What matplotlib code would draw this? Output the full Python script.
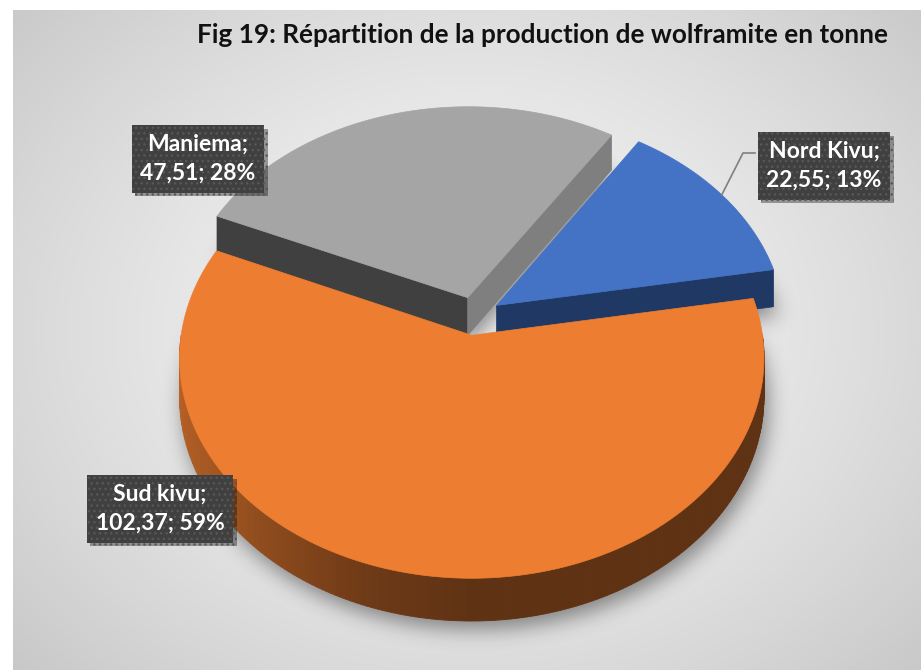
import numpy as np
import matplotlib.pyplot as plt
from matplotlib.patches import Polygon
from matplotlib.path import Path
from matplotlib import patheffects as pe

# data
regions = ['Nord Kivu', 'Sud kivu', 'Maniema']
tonnes = [22.55, 102.37, 47.51]
colors = ['#4472c4', '#ed7d31', '#a5a5a5']
title = 'Fig 19: Répartition de la production de wolframite en tonne'

# label box centres (pixels)
label_pos = [(824, 166), (160, 509), (198, 159)]

W, H = 921, 670
CX, CY = 475, 316
RX, RY = 288, 214
PERSP = 0.102
DEPTH = 38
EXPLODE = 0.09
START = 33
FONT = ['Lato', 'DejaVu Sans']

# colours of the flat radial faces that can be seen
face_colors = {0: {'end': '#203864'}, 2: {'start': '#404040', 'end': '#7f7f7f'}}


def project(u, v, z=0.0):
    s = 1.0 / (1.0 + PERSP * v)
    return CX + RX * u * s, CY - RY * v * s + z * s


def rim(a0, a1, off, z=0.0):
    n = max(int(abs(a1 - a0) * 2), 2)
    t = np.radians(np.linspace(a0, a1, n))
    return [project(off[0] + np.sin(a), off[1] + np.cos(a), z) for a in t]


def mix(c, f):
    rgb = np.array(plt.matplotlib.colors.to_rgb(c))
    return tuple(np.clip(rgb * f, 0, 1))


total = sum(tonnes)
spans = [v / total * 360 for v in tonnes]
starts = START + np.concatenate([[0], np.cumsum(spans)[:-1]])

slices = []
for i, (a0, sp) in enumerate(zip(starts, spans)):
    a1 = a0 + sp
    mid = np.radians((a0 + a1) / 2)
    off = (EXPLODE * np.sin(mid), EXPLODE * np.cos(mid))
    slices.append((i, a0, a1, off))

fig = plt.figure(figsize=(W / 100, H / 100), dpi=100)
ax = fig.add_axes([0, 0, 1, 1])
ax.set_xlim(0, W)
ax.set_ylim(H, 0)
ax.axis('off')

# background
gx, gy = np.meshgrid(np.arange(13, W), np.arange(10, H))
d = np.sqrt(((gx - 470) / 620.0) ** 2 + ((gy - 330) / 500.0) ** 2)
g = np.clip(0.965 - 0.18 * d ** 1.4, 0, 1)
ax.imshow(np.dstack([g, g, g]), extent=[13, W, H, 10], zorder=0, interpolation='bilinear')

# soft shadow under the pie
px, py = np.meshgrid(np.arange(W), np.arange(H))
pts = np.column_stack([px.ravel(), py.ravel()])
mask = np.zeros(W * H)
for i, a0, a1, off in slices:
    apex_b = project(off[0], off[1], DEPTH)
    outline = [apex_b] + rim(a0, a1, off, DEPTH) + [apex_b]
    outline = [(x + 3, y + 8) for x, y in outline]
    mask = np.maximum(mask, Path(outline).contains_points(pts))
mask = mask.reshape(H, W)
sig = 10.0
kx = np.fft.fftfreq(W)
ky = np.fft.fftfreq(H)
kern = np.exp(-2 * (np.pi * sig) ** 2 * (kx[None, :] ** 2 + ky[:, None] ** 2))
blur = np.real(np.fft.ifft2(np.fft.fft2(mask) * kern))
shadow = np.zeros((H, W, 4))
shadow[..., 3] = np.clip(blur, 0, 1) * 0.42
ax.imshow(shadow, extent=[0, W, H, 0], zorder=1, interpolation='bilinear')

# pie, back slices first
side_t = [90, 180, 200, 235, 270]
side_f = [0.40, 0.40, 0.47, 0.69, 0.80]
for i, a0, a1, off in sorted(slices, key=lambda s: -s[3][1]):
    col = colors[i]
    apex_t = project(off[0], off[1])
    apex_b = project(off[0], off[1], DEPTH)

    # curved outer side, only the part that faces us
    lo, hi = max(a0, 90), min(a1, 270)
    if hi > lo:
        ang = np.linspace(lo, hi, int(hi - lo) + 1)
        for b0, b1 in zip(ang[:-1], ang[1:]):
            top = rim(b0, b1, off)
            bot = rim(b0, b1, off, DEPTH)
            fc = mix(col, np.interp((b0 + b1) / 2, side_t, side_f))
            ax.add_patch(Polygon(top + bot[::-1], closed=True, fc=fc, ec=fc, lw=0.6, zorder=2))

    # flat radial faces
    for key, a in (('start', a0), ('end', a1)):
        fc = face_colors.get(i, {}).get(key)
        if fc is None:
            continue
        r_t = rim(a, a, off)[0]
        r_b = rim(a, a, off, DEPTH)[0]
        ax.add_patch(Polygon([apex_t, r_t, r_b, apex_b], closed=True, fc=fc, ec=fc, lw=0.5, zorder=2))

    # top face
    ax.add_patch(Polygon([apex_t] + rim(a0, a1, off), closed=True, fc=col, ec=col, lw=0.5, zorder=3))

# leader line for Nord Kivu
i, a0, a1, off = slices[0]
anchor = rim((a0 + a1) / 2, (a0 + a1) / 2, off)[0]
ax.plot([anchor[0], 743, 755], [anchor[1], 153, 153], color='#7f7f7f', lw=1.2, zorder=4)

# data labels
for i, (name, val) in enumerate(zip(regions, tonnes)):
    pct = round(val / total * 100)
    txt = '{};\n{}; {}%'.format(name, ('%.2f' % val).replace('.', ','), pct)
    t = ax.text(label_pos[i][0], label_pos[i][1], txt, ha='center', va='center',
                color='white', fontsize=16.5, fontweight='bold', family=FONT,
                linespacing=1.45, zorder=6,
                bbox=dict(boxstyle='square,pad=0.38', fc='#404040', ec='#575757', lw=0, hatch='...'))
    t.get_bbox_patch().set_path_effects([pe.SimplePatchShadow(offset=(2.5, -2.5), shadow_rgbFace='k', alpha=0.35),
                                         pe.Normal()])

ax.text(888, 43, title, ha='right', va='baseline', fontsize=18.8, fontweight='bold',
        family=FONT, color='#111111', zorder=6)

fig.savefig('out.png', dpi=100)
